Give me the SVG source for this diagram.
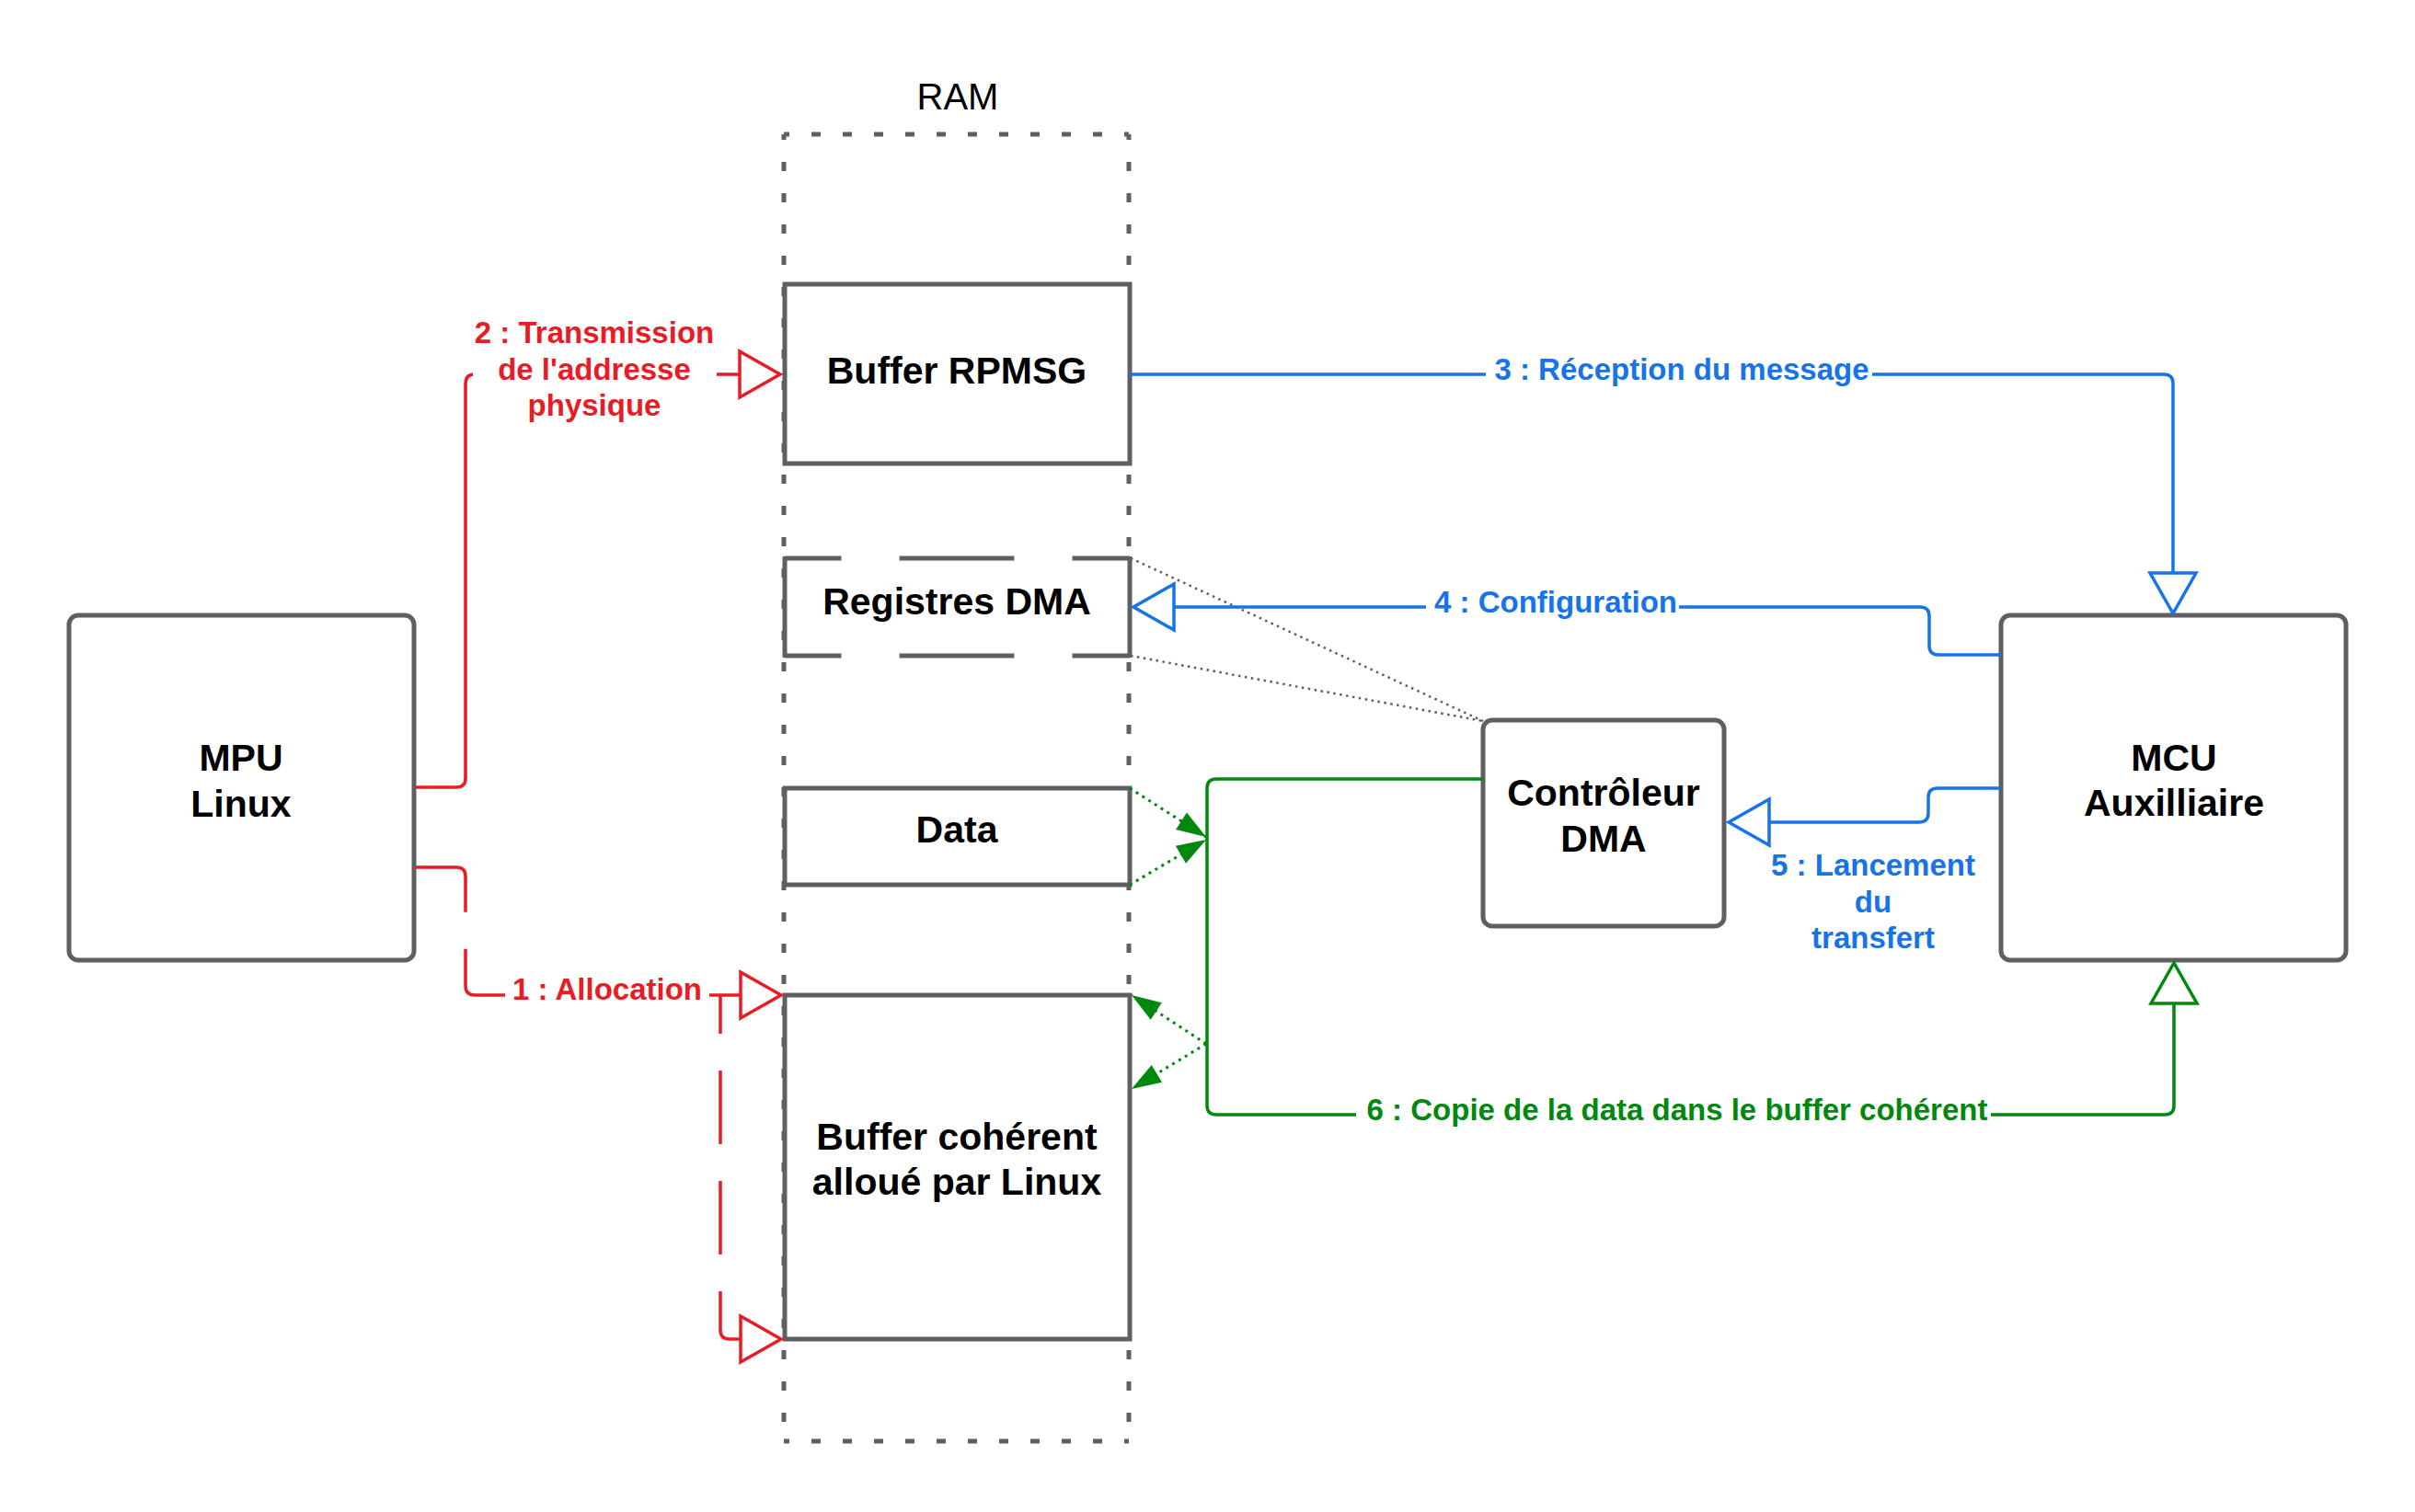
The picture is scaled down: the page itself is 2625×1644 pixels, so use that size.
<svg xmlns="http://www.w3.org/2000/svg" width="2625" height="1644" viewBox="0 0 2625 1644">
<style>
  text { font-family: "Liberation Sans", Arial, sans-serif; }
  .node { fill: #ffffff; stroke: #5f5f5f; stroke-width: 5; }
  .nlabel { font-size: 41px; font-weight: bold; fill: #000000; text-anchor: middle; }
  .ram-edge { stroke: #5f5f5f; stroke-width: 5; stroke-dasharray: 10 24; stroke-dashoffset: 4; fill: none; }
  .reg-dash { stroke: #5f5f5f; stroke-width: 5; stroke-dasharray: 125 63; stroke-dashoffset: 63.5; fill: none; }
  .reg-solid { stroke: #5f5f5f; stroke-width: 5; fill: none; }
  .edge { fill: none; stroke-width: 3.5; }
  .red { stroke: #e81c24; }
  .blue { stroke: #1673e8; }
  .green { stroke: #00880f; }
  .elabel { font-size: 33px; font-weight: bold; text-anchor: middle; }
  .t-red { fill: #e81c24; }
  .t-blue { fill: #1673e8; }
  .t-green { fill: #00880f; }
  .lbg { fill: #ffffff; stroke: none; }
  .dot-gray { fill: none; stroke: #5f5f5f; stroke-width: 2.5; stroke-dasharray: 2.5 4.5; }
  .dot-green { fill: none; stroke: #00880f; stroke-width: 3; stroke-dasharray: 3 5; }
</style>
<defs>
  <marker id="triR" markerUnits="userSpaceOnUse" markerWidth="52" markerHeight="58" viewBox="0 0 52 58" refX="48" refY="29" orient="auto">
    <path d="M4,4 L48,29 L4,54 Z" fill="#ffffff" stroke="#e81c24" stroke-width="3.5"/>
  </marker>
  <marker id="triB" markerUnits="userSpaceOnUse" markerWidth="52" markerHeight="58" viewBox="0 0 52 58" refX="48" refY="29" orient="auto">
    <path d="M4,4 L48,29 L4,54 Z" fill="#ffffff" stroke="#1673e8" stroke-width="3.5"/>
  </marker>
  <marker id="triG" markerUnits="userSpaceOnUse" markerWidth="52" markerHeight="58" viewBox="0 0 52 58" refX="48" refY="29" orient="auto">
    <path d="M4,4 L48,29 L4,54 Z" fill="#ffffff" stroke="#00880f" stroke-width="3.5"/>
  </marker>
  <marker id="arrG" markerUnits="userSpaceOnUse" markerWidth="34" markerHeight="24" viewBox="0 0 34 24" refX="33" refY="12" orient="auto">
    <path d="M1,1 L33,12 L1,23 Z" fill="#00880f" stroke="none"/>
  </marker>
</defs>
<rect x="0" y="0" width="2625" height="1644" fill="#ffffff"/>

<g id="ram">
  <line class="ram-edge" x1="852" y1="146" x2="1227" y2="146"/>
  <line class="ram-edge" x1="852" y1="146" x2="852" y2="1567"/>
  <line class="ram-edge" x1="1227" y1="146" x2="1227" y2="1567"/>
  <line class="ram-edge" x1="852" y1="1567" x2="1227" y2="1567"/>
  <text x="1041" y="119" font-size="40" text-anchor="middle" fill="#000000">RAM</text>
</g>

<g id="buffer-rpmsg">
  <rect class="node" x="853" y="309" width="375" height="195"/>
  <text class="nlabel" x="1040" y="417">Buffer RPMSG</text>
</g>

<g id="registres-dma">
  <rect x="853" y="607" width="375" height="106" fill="#ffffff"/>
  <line class="reg-dash" x1="853" y1="607" x2="1228" y2="607"/>
  <line class="reg-dash" x1="853" y1="713" x2="1228" y2="713"/>
  <line class="reg-solid" x1="853" y1="605" x2="853" y2="715"/>
  <line class="reg-solid" x1="1228" y1="605" x2="1228" y2="715"/>
  <text class="nlabel" x="1040" y="668">Registres DMA</text>
</g>

<g id="data">
  <rect class="node" x="853" y="857" width="375" height="105"/>
  <text class="nlabel" x="1040" y="916">Data</text>
</g>

<g id="buffer-coherent">
  <rect class="node" x="853" y="1082" width="375" height="374"/>
  <text class="nlabel" x="1040" y="1250">Buffer cohérent</text>
  <text class="nlabel" x="1040" y="1299">alloué par Linux</text>
</g>

<g id="mpu">
  <rect class="node" x="75" y="669" width="375" height="375" rx="10" ry="10"/>
  <text class="nlabel" x="262" y="838">MPU</text>
  <text class="nlabel" x="262" y="888">Linux</text>
</g>

<g id="controleur-dma">
  <rect class="node" x="1612" y="783" width="262" height="224" rx="10" ry="10"/>
  <text class="nlabel" x="1743" y="876">Contrôleur</text>
  <text class="nlabel" x="1743" y="926">DMA</text>
</g>

<g id="mcu">
  <rect class="node" x="2175" y="669" width="375" height="375" rx="10" ry="10"/>
  <text class="nlabel" x="2363" y="838">MCU</text>
  <text class="nlabel" x="2363" y="887">Auxilliaire</text>
</g>

<g id="connectors">
  <!-- dotted links Registres DMA - Controleur -->
  <line class="dot-gray" x1="1229" y1="607" x2="1612" y2="784"/>
  <line class="dot-gray" x1="1229" y1="713" x2="1612" y2="784"/>

  <!-- 2 : Transmission -->
  <path class="edge red" d="M452,856 H496 Q506,856 506,846 V417 Q506,407 516,407 H848" marker-end="url(#triR)"/>
  <rect class="lbg" x="514" y="350" width="265" height="112"/>
  <text class="elabel t-red" x="646" y="373">2 : Transmission</text>
  <text class="elabel t-red" x="646" y="413">de l'addresse</text>
  <text class="elabel t-red" x="646" y="452">physique</text>

  <!-- 1 : Allocation -->
  <path class="edge red" d="M452,943 H496 Q506,943 506,953 V1072 Q506,1082 516,1082 H849" stroke-dasharray="99 40 2000" marker-end="url(#triR)"/>
  <path class="edge red" d="M783,1082 V1446 Q783,1456 793,1456 H849" stroke-dasharray="80 40" stroke-dashoffset="38" marker-end="url(#triR)"/>
  <rect class="lbg" x="549" y="1058" width="222" height="42"/>
  <text class="elabel t-red" x="660" y="1087">1 : Allocation</text>

  <!-- 3 : Reception du message -->
  <path class="edge blue" d="M1228,407 H2352 Q2362,407 2362,417 V667" marker-end="url(#triB)"/>
  <rect class="lbg" x="1615" y="386" width="420" height="42"/>
  <text class="elabel t-blue" x="1828" y="413">3 : Réception du message</text>

  <!-- 4 : Configuration -->
  <path class="edge blue" d="M2175,712 H2107 Q2097,712 2097,702 V670 Q2097,660 2087,660 H1232" marker-end="url(#triB)"/>
  <rect class="lbg" x="1550" y="639" width="275" height="42"/>
  <text class="elabel t-blue" x="1691" y="666">4 : Configuration</text>

  <!-- 5 : Lancement du transfert -->
  <path class="edge blue" d="M2175,857 H2106 Q2096,857 2096,867 V884 Q2096,894 2086,894 H1879" marker-end="url(#triB)"/>
  <text class="elabel t-blue" x="2036" y="952">5 : Lancement</text>
  <text class="elabel t-blue" x="2036" y="992">du</text>
  <text class="elabel t-blue" x="2036" y="1031">transfert</text>

  <!-- 6 : Copie de la data -->
  <path class="edge green" d="M1612,847 H1322 Q1312,847 1312,857 V1202 Q1312,1212 1322,1212 H2353 Q2363,1212 2363,1202 V1047" marker-end="url(#triG)"/>
  <rect class="lbg" x="1474" y="1191" width="690" height="42"/>
  <text class="elabel t-green" x="1823" y="1218">6 : Copie de la data dans le buffer cohérent</text>

  <!-- green dotted data links -->
  <path class="dot-green" d="M1228,857 L1311,910" marker-end="url(#arrG)"/>
  <path class="dot-green" d="M1228,962 L1311,913" marker-end="url(#arrG)"/>
  <path class="dot-green" d="M1311,1135 L1230,1082" marker-end="url(#arrG)"/>
  <path class="dot-green" d="M1311,1135 L1230,1184" marker-end="url(#arrG)"/>
</g>
</svg>
